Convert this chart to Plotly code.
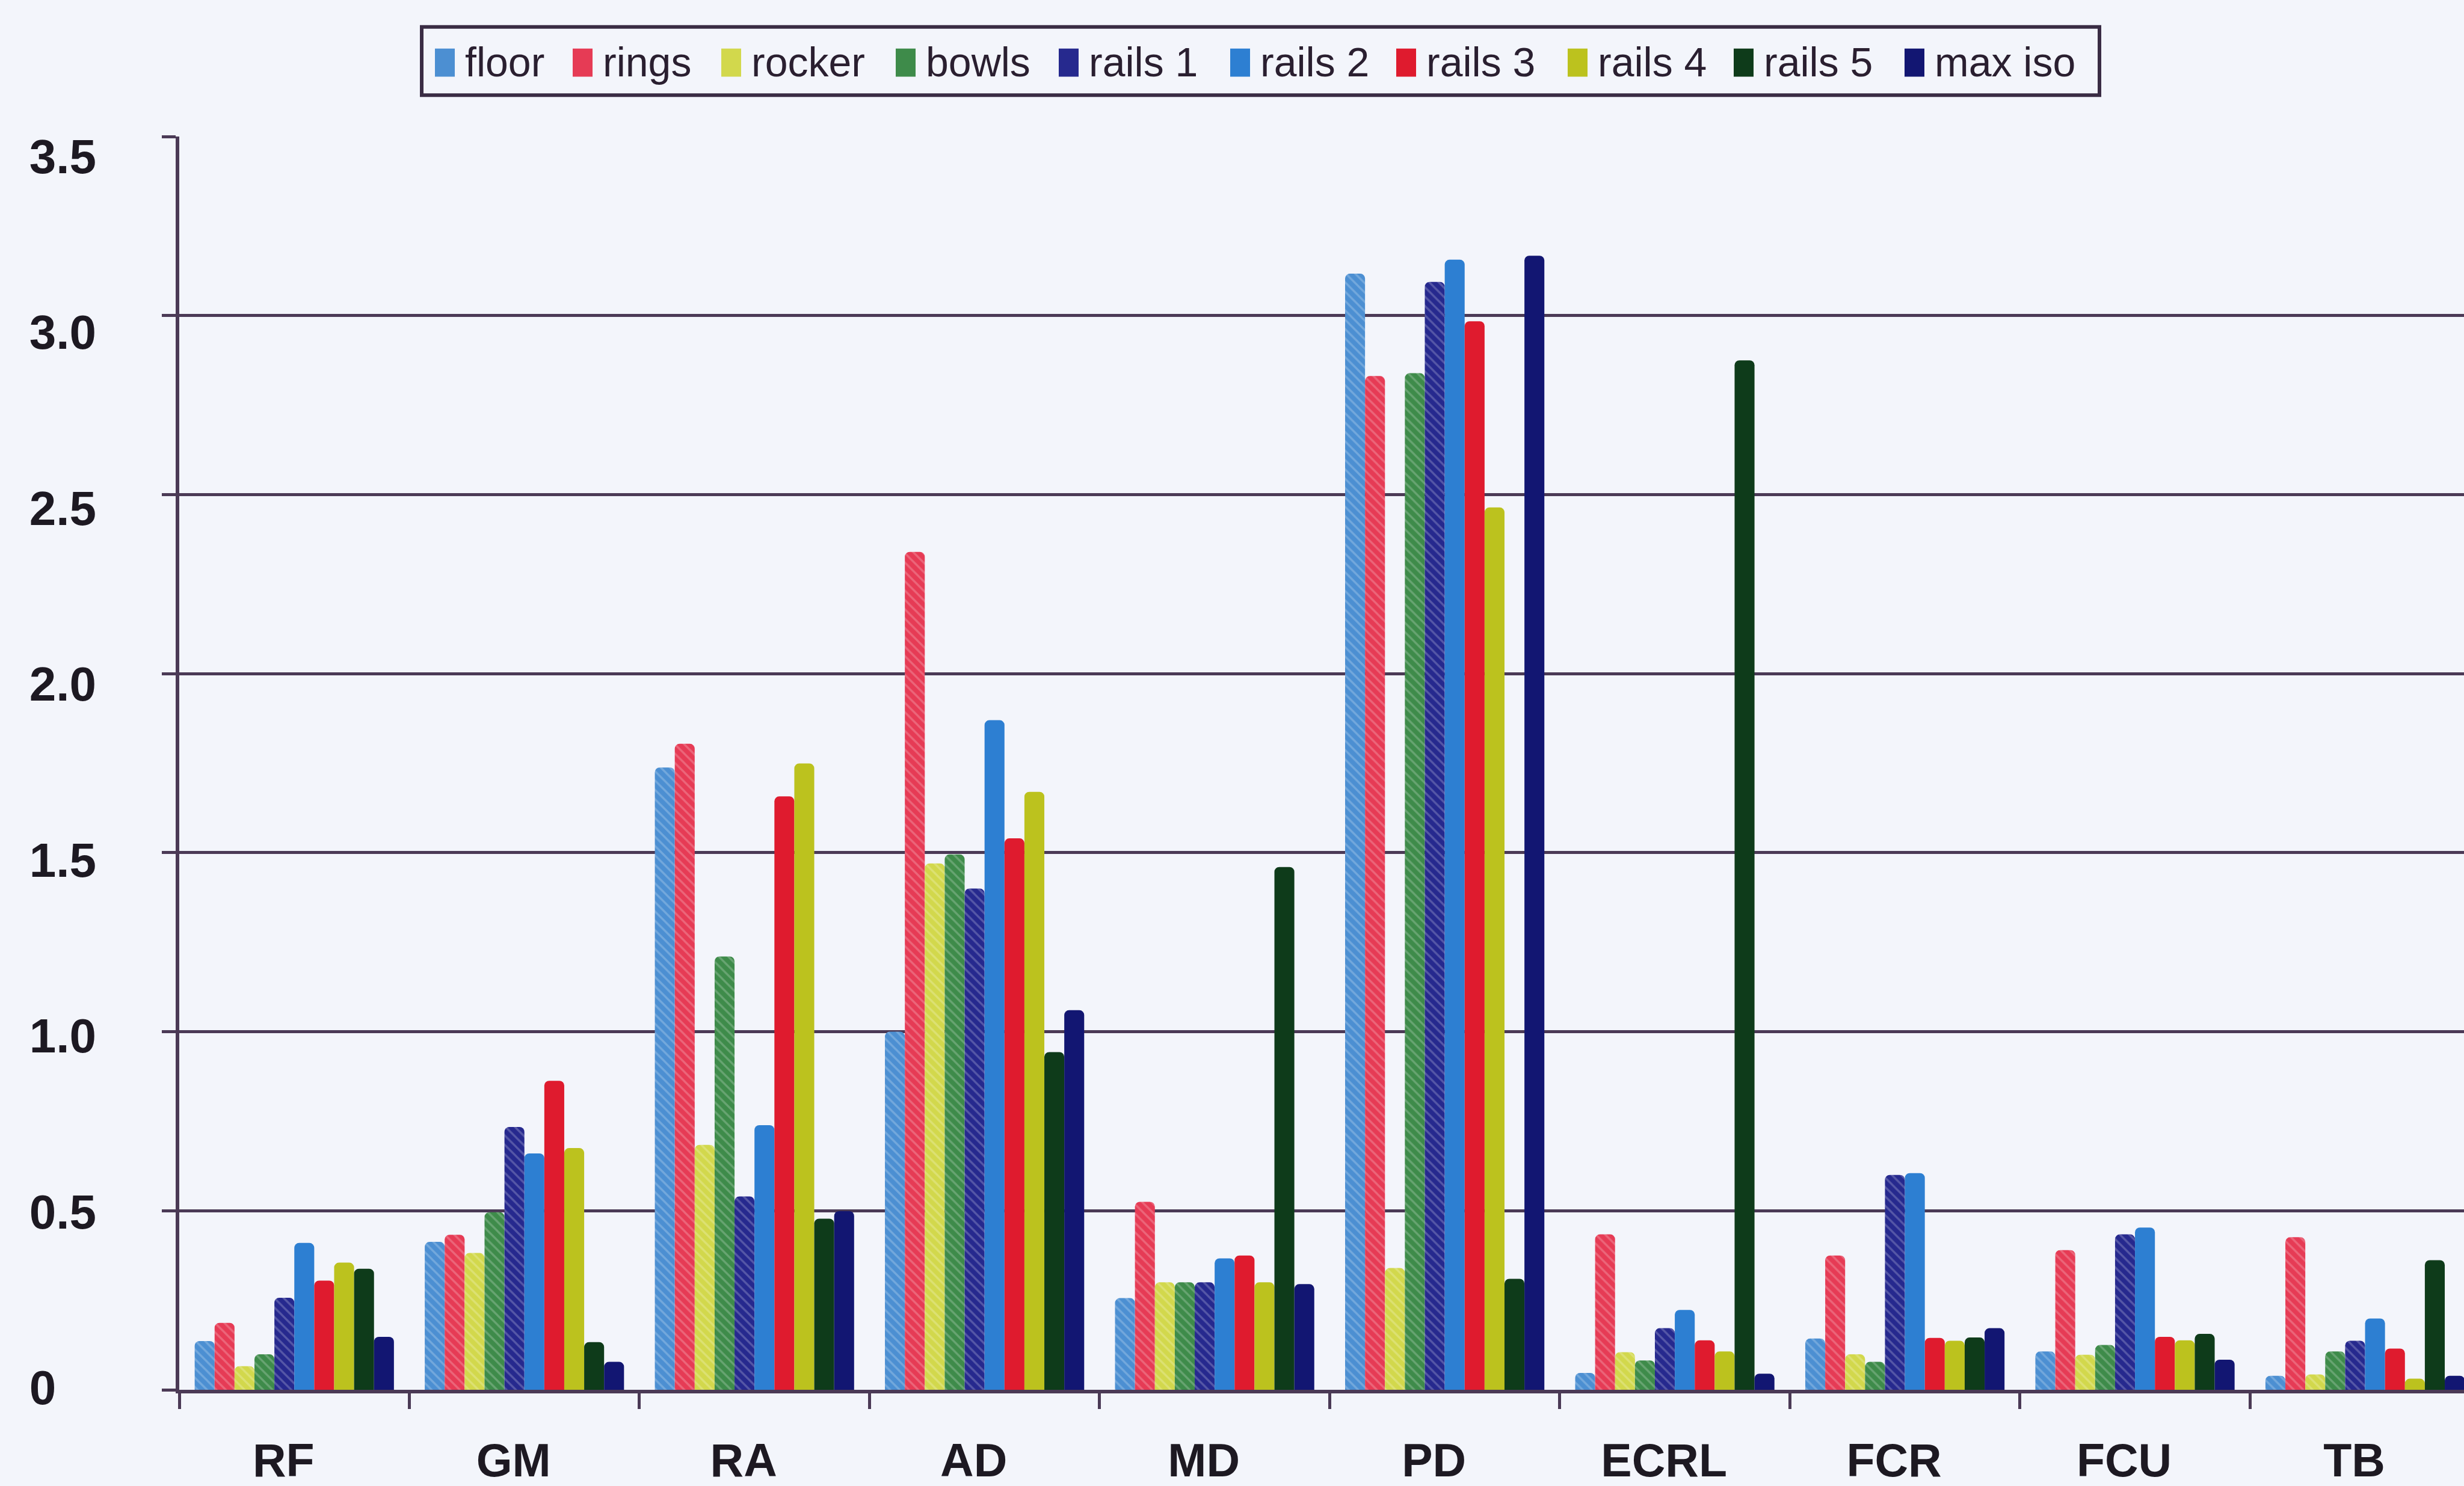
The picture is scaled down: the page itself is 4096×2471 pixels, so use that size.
import plotly.graph_objects as go

# ---- data -------------------------------------------------------------
muscles = ["RF", "GM", "RA", "AD", "MD", "PD", "ECRL", "FCR", "FCU", "TB"]

floor_vals  = [0.136, 0.413, 1.738, 1.000, 0.256, 3.117, 0.047, 0.143, 0.107, 0.039]
rings_vals  = [0.187, 0.433, 1.804, 2.340, 0.525, 2.831, 0.434, 0.375, 0.390, 0.426]
rocker_vals = [0.066, 0.382, 0.684, 1.470, 0.300, 0.340, 0.105, 0.099, 0.098, 0.043]
bowls_vals  = [0.099, 0.496, 1.210, 1.495, 0.300, 2.839, 0.082, 0.078, 0.125, 0.107]
rails1_vals = [0.257, 0.734, 0.540, 1.400, 0.300, 3.094, 0.172, 0.600, 0.434, 0.137]
rails2_vals = [0.410, 0.660, 0.739, 1.870, 0.367, 3.156, 0.223, 0.605, 0.453, 0.199]
rails3_vals = [0.305, 0.863, 1.657, 1.540, 0.375, 2.984, 0.138, 0.145, 0.148, 0.115]
rails4_vals = [0.355, 0.675, 1.749, 1.670, 0.300, 2.464, 0.107, 0.137, 0.138, 0.031]
rails5_vals = [0.338, 0.133, 0.478, 0.943, 1.460, 0.310, 2.875, 0.146, 0.156, 0.362]
maxiso_vals = [0.148, 0.078, 0.499, 1.060, 0.295, 3.167, 0.045, 0.172, 0.084, 0.039]

series_names = ["floor", "rings", "rocker", "bowls", "rails 1",
                "rails 2", "rails 3", "rails 4", "rails 5", "max iso"]
series_vals = [floor_vals, rings_vals, rocker_vals, bowls_vals, rails1_vals,
               rails2_vals, rails3_vals, rails4_vals, rails5_vals, maxiso_vals]

y_ticks = [0, 0.5, 1.0, 1.5, 2.0, 2.5, 3.0, 3.5]
y_tick_labels = ["0\u00a0\u00a0\u00a0", "0.5", "1.0", "1.5", "2.0", "2.5", "3.0", "3.5"]

# ---- styling ----------------------------------------------------------
colors = ["#4c8fd2", "#e63b55", "#d2d84c", "#3e8b4a", "#26298e",
          "#2d7fd2", "#df1b2e", "#bcc21e", "#0e3b1a", "#121672"]
hatched = [True, True, True, True, True, False, False, False, False, False]

W, H = 4096, 2471
ML, MR, MT, MB = 298, 0, 227, 151
PW, PH = W - ML - MR, H - MT - MB
BG = "#f3f5fb"
GRID = "#4b3a56"
INK = "#1d1922"


def px_x(x):
    return (x - ML) / PW


def px_y(y):
    return (H - MB - y) / PH


fig = go.Figure()
for name, vals, col, hat in zip(series_names, series_vals, colors, hatched):
    marker = dict(color=col, line=dict(width=0), cornerradius=8)
    if hat:
        marker["pattern"] = dict(shape="\\", fillmode="overlay", fgcolor="#ffffff",
                                 fgopacity=0.22, size=11, solidity=0.3)
    fig.add_trace(go.Bar(x=muscles, y=vals, name=name, marker=marker,
                         showlegend=False))

# empty trace so the label axis (y2) is laid out
fig.add_trace(go.Scatter(x=[], y=[], yaxis="y2", showlegend=False, hoverinfo="skip"))

# ---- legend box (swatch + label per series) ---------------------------
legend_left = [723, 952, 1199, 1489, 1760, 2045, 2321, 2606, 2882, 3166]
shapes = [dict(type="rect", xref="paper", yref="paper",
               x0=px_x(701), x1=px_x(3490), y0=px_y(158), y1=px_y(44),
               line=dict(color="#3a2c44", width=6), fillcolor=BG, layer="above")]
annotations = []
for name, col, lx in zip(series_names, colors, legend_left):
    shapes.append(dict(type="rect", xref="paper", yref="paper",
                       x0=px_x(lx), x1=px_x(lx + 33), y0=px_y(127), y1=px_y(80),
                       line=dict(width=0), fillcolor=col, layer="above"))
    annotations.append(dict(xref="paper", yref="paper", x=px_x(lx + 48), y=px_y(102),
                            xanchor="left", yanchor="middle", showarrow=False,
                            text=name,
                            font=dict(family="Liberation Sans, Arial, sans-serif",
                                      size=68, color="#2a1f30")))

fig.update_layout(
    width=W, height=H,
    margin=dict(l=ML, r=MR, t=MT, b=MB, pad=0),
    paper_bgcolor=BG, plot_bgcolor=BG,
    barmode="group", bargap=0.134, bargroupgap=0,
    showlegend=False,
    shapes=shapes, annotations=annotations,
    xaxis=dict(
        type="category", range=[-0.5, 9.43],
        showline=True, linecolor=GRID, linewidth=6,
        ticks="outside", tickson="boundaries", ticklen=26, tickwidth=5, tickcolor=GRID,
        showgrid=False, zeroline=False,
        ticklabelstandoff=46, ticklabelshift=-18,
        tickfont=dict(family="Liberation Sans Narrow, Arial Narrow, Liberation Sans, sans-serif",
                      size=77, color=INK, weight="bold"),
    ),
    yaxis=dict(
        range=[0, 3.5], tickvals=y_ticks,
        showline=True, linecolor=GRID, linewidth=6,
        showgrid=True, gridcolor=GRID, gridwidth=5,
        ticks="outside", ticklen=23, tickwidth=5, tickcolor=GRID,
        showticklabels=False, zeroline=False,
    ),
    # label axis sharing the plot area; its scale sets where the value labels sit
    yaxis2=dict(
        overlaying="y", side="left", anchor="x",
        range=[-0.0062, 3.556], tickvals=y_ticks, ticktext=y_tick_labels,
        tickmode="array",
        showline=False, showgrid=False, zeroline=False, ticks="",
        ticklabelstandoff=137,
        tickfont=dict(family="Liberation Sans, Arial, sans-serif", size=80,
                      color=INK, weight="bold"),
    ),
)

fig.write_html("out.html")
